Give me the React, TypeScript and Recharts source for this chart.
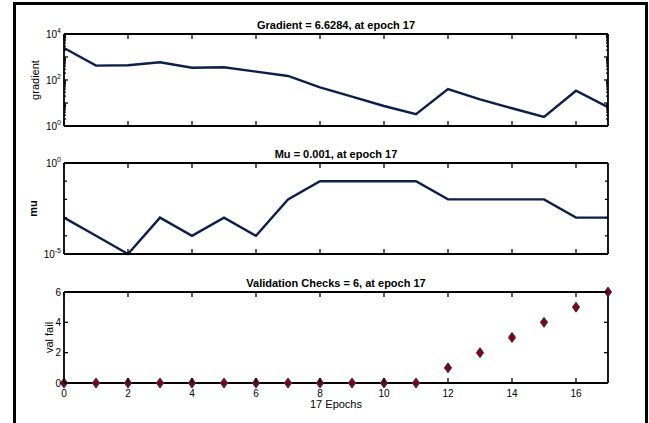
import React from 'react';
import { LineChart, Line, XAxis, YAxis } from 'recharts';

// values (17 epochs)
const epochs = [0, 1, 2, 3, 4, 5, 6, 7, 8, 9, 10, 11, 12, 13, 14, 15, 16, 17];
const gradientValues = [2450, 420, 440, 590, 340, 360, 230, 150, 48, 19, 7.4, 3.3, 40, 14.5, 5.9, 2.5, 34, 6.63];
const muValues = [1e-3, 1e-4, 1e-5, 1e-3, 1e-4, 1e-3, 1e-4, 1e-2, 1e-1, 1e-1, 1e-1, 1e-1, 1e-2, 1e-2, 1e-2, 1e-2, 1e-3, 1e-3];
const valFailValues = [0, 0, 0, 0, 0, 0, 0, 0, 0, 0, 0, 0, 1, 2, 3, 4, 5, 6];

const epochTicks = [0, 2, 4, 6, 8, 10, 12, 14, 16];
const gradientMajorTicks = [1, 10, 100, 1000, 10000];
const gradientLabelTicks = [1, 100, 10000];
const gradientMinorFactors = [2, 3, 4, 5, 6, 7, 8, 9];
const muTicks = [1e-5, 1e-4, 1e-3, 1e-2, 1e-1, 1];
const muLabelTicks = [1e-5, 1];
const valTicks = [0, 2, 4, 6];

const titles = [
  'Gradient = 6.6284, at epoch 17',
  'Mu = 0.001, at epoch 17',
  'Validation Checks = 6, at epoch 17',
];

const data = epochs.map((epoch, i) => ({
  epoch,
  gradient: gradientValues[i],
  mu: muValues[i],
  val: valFailValues[i],
}));

const gradientTicks = [
  ...gradientMajorTicks,
  ...gradientMajorTicks.slice(0, 4).flatMap((d) => gradientMinorFactors.map((m) => d * m)),
];

const LINE = '#0c1f4a';
const AXIS = { stroke: '#000', strokeWidth: 1.8 };

const xTick = (side: 'top' | 'bottom', showLabel: boolean) => (props: any) => {
  const { x, y, payload } = props;
  const dir = side === 'bottom' ? -1 : 1;
  return (
    <g>
      <line x1={x} y1={y} x2={x} y2={y + dir * 5} stroke="#000" strokeWidth={1.3} />
      {showLabel && (
        <text x={x} y={y + 13.5} textAnchor="middle" fontSize={10} fill="#000">
          {payload.value}
        </text>
      )}
    </g>
  );
};

const logLabel = (v: number) => {
  const exp = Math.round(Math.log10(v));
  return (
    <>
      10
      <tspan dy={-5} fontSize={7}>
        {exp}
      </tspan>
    </>
  );
};

const yTick =
  (side: 'left' | 'right', len: (v: number) => number, label?: (v: number) => React.ReactNode) =>
  (props: any) => {
    const { x, y, payload } = props;
    const dir = side === 'left' ? 1 : -1;
    const v = payload.value;
    const content = label ? label(v) : null;
    return (
      <g>
        <line x1={x} y1={y} x2={x + dir * len(v)} y2={y} stroke="#000" strokeWidth={1.3} />
        {side === 'left' && content !== null && (
          <text x={x - 3} y={y + 3.5} textAnchor="end" fontSize={10} fill="#000">
            {content}
          </text>
        )}
      </g>
    );
  };

const gradLen = (v: number) => (gradientMajorTicks.includes(v) ? 4 : 2);
const gradLabel = (v: number) => (gradientLabelTicks.includes(v) ? logLabel(v) : null);
const muLabel = (v: number) => (muLabelTicks.includes(v) ? logLabel(v) : null);

const Diamond = (props: any) => {
  const { cx, cy } = props;
  if (cx == null || cy == null) return null;
  return (
    <path
      d={`M${cx},${cy - 5}L${cx + 3.6},${cy}L${cx},${cy + 5}L${cx - 3.6},${cy}Z`}
      fill="#8b0000"
      stroke="#1c3a70"
      strokeWidth={1}
    />
  );
};

const xCommon = {
  dataKey: 'epoch',
  type: 'number' as const,
  domain: [0, 17],
  ticks: epochTicks,
  interval: 0 as const,
  tickLine: false,
  tickSize: 0,
  tickMargin: 0,
  axisLine: AXIS,
};

// axes need a non-zero size to be drawn, so the frame axes get 1px
const TopAxis = (title: string) => (
  <XAxis
    {...xCommon}
    xAxisId="top"
    orientation="top"
    height={1}
    tick={xTick('top', false)}
    label={{ value: title, position: 'top', offset: 4, fontSize: 11, fontWeight: 'bold', fill: '#000' }}
  />
);

const FrameLine = (key: string) => (
  <Line
    xAxisId="top"
    yAxisId="right"
    dataKey={key}
    stroke="none"
    dot={false}
    activeDot={false}
    legendType="none"
    isAnimationActive={false}
  />
);

export default function App() {
  return (
    <div
      style={{
        position: 'absolute',
        left: 0,
        top: 0,
        width: 649,
        height: 423,
        background: '#fff',
        fontFamily: '"Liberation Sans", Arial, sans-serif',
        overflow: 'hidden',
      }}
    >
      <div
        style={{
          position: 'absolute',
          left: 13,
          top: 2,
          width: 635,
          height: 430,
          boxSizing: 'border-box',
          borderLeft: '3px solid #000',
          borderTop: '3px solid #000',
          borderRight: '3px solid #000',
        }}
      />

      {/* gradient */}
      <div style={{ position: 'absolute', left: 0, top: 0 }}>
        <LineChart width={649} height={140} data={data} margin={{ top: 33, right: 40, bottom: 13, left: 6 }}>
          {TopAxis(titles[0])}
          <XAxis {...xCommon} xAxisId="bottom" height={1} tick={xTick('bottom', false)} />
          <YAxis
            yAxisId="left"
            width={58}
            type="number"
            scale="log"
            domain={[1, 10000]}
            ticks={gradientTicks}
            interval={0}
            tickLine={false}
            tickSize={0}
            tickMargin={0}
            axisLine={AXIS}
            tick={yTick('left', gradLen, gradLabel)}
            label={{ value: 'gradient', angle: -90, position: 'center', fontSize: 11, fill: '#000' }}
          />
          <YAxis
            yAxisId="right"
            orientation="right"
            width={1}
            type="number"
            scale="log"
            domain={[1, 10000]}
            ticks={gradientTicks}
            interval={0}
            tickLine={false}
            tickSize={0}
            tickMargin={0}
            axisLine={AXIS}
            tick={yTick('right', gradLen)}
          />
          {FrameLine('gradient')}
          <Line
            xAxisId="bottom"
            yAxisId="left"
            dataKey="gradient"
            stroke={LINE}
            strokeWidth={2.4}
            dot={false}
            isAnimationActive={false}
          />
        </LineChart>
      </div>

      {/* mu */}
      <div style={{ position: 'absolute', left: 0, top: 135 }}>
        <LineChart width={649} height={130} data={data} margin={{ top: 27, right: 40, bottom: 10, left: 2 }}>
          {TopAxis(titles[1])}
          <XAxis {...xCommon} xAxisId="bottom" height={1} tick={xTick('bottom', false)} />
          <YAxis
            yAxisId="left"
            width={62}
            type="number"
            scale="log"
            domain={[1e-5, 1]}
            ticks={muTicks}
            interval={0}
            tickLine={false}
            tickSize={0}
            tickMargin={0}
            axisLine={AXIS}
            tick={yTick('left', () => 3, muLabel)}
            label={{ value: 'mu', angle: -90, position: 'center', fontSize: 11, fontWeight: 'bold', fill: '#000' }}
          />
          <YAxis
            yAxisId="right"
            orientation="right"
            width={1}
            type="number"
            scale="log"
            domain={[1e-5, 1]}
            ticks={muTicks}
            interval={0}
            tickLine={false}
            tickSize={0}
            tickMargin={0}
            axisLine={AXIS}
            tick={yTick('right', () => 3)}
          />
          {FrameLine('mu')}
          <Line
            xAxisId="bottom"
            yAxisId="left"
            dataKey="mu"
            stroke={LINE}
            strokeWidth={2.4}
            dot={false}
            isAnimationActive={false}
          />
        </LineChart>
      </div>

      {/* validation checks */}
      <div style={{ position: 'absolute', left: 0, top: 265 }}>
        <LineChart width={649} height={158} data={data} margin={{ top: 26, right: 40, bottom: 10, left: 34 }}>
          {TopAxis(titles[2])}
          <XAxis
            {...xCommon}
            xAxisId="bottom"
            height={30}
            tick={xTick('bottom', true)}
            label={{ value: '17 Epochs', position: 'insideBottom', fontSize: 11, fill: '#000' }}
          />
          <YAxis
            yAxisId="left"
            width={30}
            type="number"
            domain={[0, 6]}
            ticks={valTicks}
            interval={0}
            tickLine={false}
            tickSize={0}
            tickMargin={0}
            axisLine={AXIS}
            tick={yTick('left', () => 4, (v) => v)}
            label={{ value: 'val fail', angle: -90, position: 'center', fontSize: 11, fill: '#000' }}
          />
          <YAxis
            yAxisId="right"
            orientation="right"
            width={1}
            type="number"
            domain={[0, 6]}
            ticks={valTicks}
            interval={0}
            tickLine={false}
            tickSize={0}
            tickMargin={0}
            axisLine={AXIS}
            tick={yTick('right', () => 4)}
          />
          {FrameLine('val')}
          <Line
            xAxisId="bottom"
            yAxisId="left"
            dataKey="val"
            stroke="none"
            dot={<Diamond />}
            isAnimationActive={false}
          />
        </LineChart>
      </div>
    </div>
  );
}
